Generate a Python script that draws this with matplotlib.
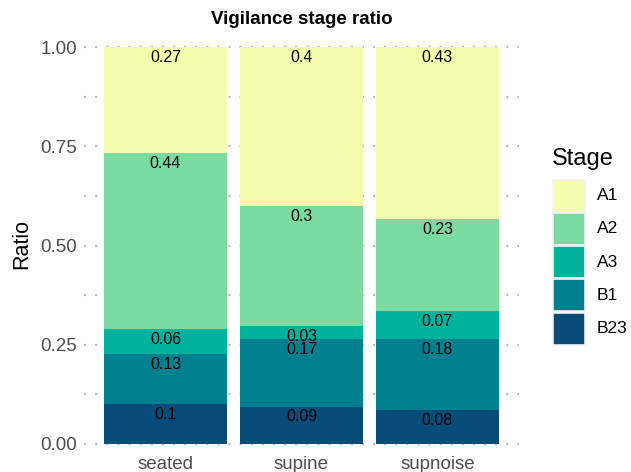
import matplotlib
matplotlib.use("Agg")
import matplotlib.pyplot as plt
from matplotlib.patches import Rectangle
import numpy as np

plt.rcParams['font.family'] = ['Liberation Sans', 'DejaVu Sans']

conditions = ["seated", "supine", "supnoise"]
stages = ["A1", "A2", "A3", "B1", "B23"]
# values per stage (bottom of stack is B23)
B23 = [0.10, 0.094, 0.085]
B1 = [0.127, 0.171, 0.18]
A3 = [0.062, 0.032, 0.07]
A2 = [0.443, 0.302, 0.232]
A1 = [0.268, 0.401, 0.433]
labels = {
    "B23": ["0.1", "0.09", "0.08"],
    "B1": ["0.13", "0.17", "0.18"],
    "A3": ["0.06", "0.03", "0.07"],
    "A2": ["0.44", "0.3", "0.23"],
    "A1": ["0.27", "0.4", "0.43"],
}
colors = {"A1": "#F6FCAB", "A2": "#7ADBA0", "A3": "#00B29C", "B1": "#00808F", "B23": "#084D79"}

values = {"A1": A1, "A2": A2, "A3": A3, "B1": B1, "B23": B23}

W, H = 631, 472
fig = plt.figure(figsize=(W / 100, H / 100), dpi=100)
ax_l, ax_r, ax_t, ax_b = 84, 519, 40, 448
ax = fig.add_axes([ax_l / W, 1 - ax_b / H, (ax_r - ax_l) / W, (ax_b - ax_t) / H])

x = np.arange(1, len(conditions) + 1)
ax.set_xlim(0.4, 3.6)
# 0 at pixel 444, 1 at pixel 47
ppu = 397.0
ax.set_ylim(-(ax_b - 444) / ppu, 1 + (47 - ax_t) / ppu)

# grid
for gy in np.arange(0, 1.001, 0.125):
    ax.axhline(gy, color="#BDBDBD", linestyle=(0, (1, 4)), linewidth=1.6, zorder=0)

bottom = np.zeros(len(conditions))
for st in ["B23", "B1", "A3", "A2", "A1"]:
    v = np.array(values[st])
    ax.bar(x, v, bottom=bottom, width=0.9, color=colors[st], zorder=2, linewidth=0)
    tops = bottom + v
    for xi, t, lab in zip(x, tops, labels[st]):
        ax.annotate(lab, (xi, t), xytext=(0, -2), textcoords="offset points",
                    ha="center", va="top", fontsize=11.5, color="black", zorder=3)
    bottom = tops

for s in ax.spines.values():
    s.set_visible(False)
ax.set_xticks(x)
ax.set_xticklabels(conditions, fontsize=13.5, color="#4D4D4D")
ax.set_yticks([0, 0.25, 0.5, 0.75, 1.0])
ax.set_yticklabels(["0.00", "0.25", "0.50", "0.75", "1.00"], fontsize=13.5, color="#4D4D4D")
ax.tick_params(axis="x", length=0, pad=6)
ax.tick_params(axis="y", length=0, pad=5)
ax.set_ylabel("Ratio", fontsize=15.5, labelpad=6)
fig.text((ax_l + ax_r) / 2 / W, 1 - 20 / H, "Vigilance stage ratio", fontsize=13.5,
         fontweight="bold", ha="center", va="center")

# legend
fig.text(552 / W, 1 - 159 / H, "Stage", fontsize=17, ha="left", va="center")
key_top = 179.5
pitch = 33.3
for i, st in enumerate(stages):
    y0 = key_top + i * pitch
    fig.patches.append(Rectangle((553 / W, 1 - (y0 + 32) / H), 32 / W, 32 / H,
                                 transform=fig.transFigure, facecolor=colors[st],
                                 edgecolor="#F2F2F2", linewidth=1.2))
    fig.text(597 / W, 1 - (y0 + 16) / H, st, fontsize=12.5, ha="left", va="center")

fig.savefig("out.png", dpi=100)
